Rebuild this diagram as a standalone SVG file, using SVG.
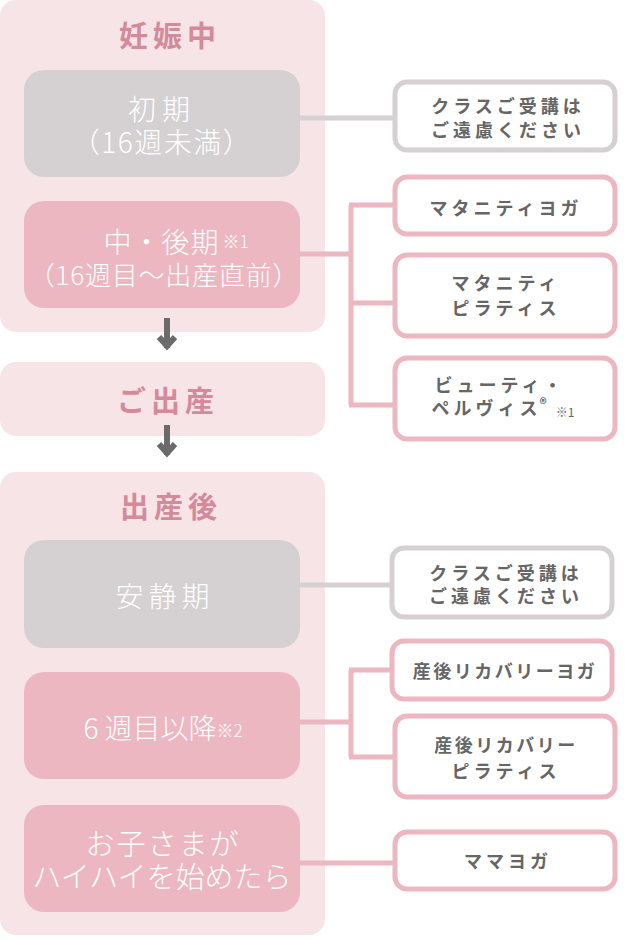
<svg xmlns="http://www.w3.org/2000/svg" width="640" height="940" viewBox="0 0 640 940">
<style>
.panel{fill:#f6e4e7}
.gbox{fill:#d5d0d2}
.pbox{fill:#ecb7c0}
.title{font-family:"Noto Sans CJK JP","Noto Sans",sans-serif;font-weight:700;font-size:29px;fill:#d48a9a;letter-spacing:5px;text-anchor:middle}
.wt{font-family:"Noto Sans CJK JP","Noto Sans",sans-serif;font-weight:300;font-size:27px;fill:#ffffff;text-anchor:middle}
.sm{font-size:17px}
.rt{font-family:"Noto Sans CJK JP","Noto Sans",sans-serif;font-weight:700;font-size:18px;fill:#666666;letter-spacing:4px;text-anchor:middle}
.rbg{fill:#ffffff;stroke:#d5d0d2;stroke-width:5}
.rbp{fill:#ffffff;stroke:#ecb7c0;stroke-width:5}
.cg{fill:none;stroke:#d5d0d2;stroke-width:5}
.cp{fill:none;stroke:#ecb7c0;stroke-width:5}
.arr{fill:none;stroke:#6b6b6b;stroke-width:6}
</style>
<g id="panel-pregnancy">
<rect class="panel" x="0" y="0" width="325" height="332" rx="16"/>
<text class="title" x="170" y="47">妊娠中</text>
</g>
<g id="panel-birth">
<rect class="panel" x="0" y="362" width="325" height="74" rx="16"/>
<text class="title" x="168" y="412">ご出産</text>
</g>
<g id="panel-postpartum">
<rect class="panel" x="0" y="472" width="325" height="463" rx="16"/>
<text class="title" x="171" y="518">出産後</text>
</g>
<g id="connectors">
<path class="cg" d="M300 118 H395"/>
<path class="cp" d="M300 254 H351 M351 205 V405 M349 205 H395 M351 303 H395 M349 405 H395"/>
<path class="cg" d="M300 585 H392"/>
<path class="cp" d="M300 722 H351 M351 670 V757 M349 670 H392 M349 757 H395"/>
<path class="cp" d="M300 863 H395"/>
<path class="arr" d="M167 318 V348 M159 337 L167 346 L175 337"/>
<path class="arr" d="M167 425 V455 M159 444 L167 453 L175 444"/>
</g>
<g id="early">
<rect class="gbox" x="24" y="70" width="276" height="107" rx="20"/>
<text class="wt" x="162" y="120" style="font-size:28px;letter-spacing:6px">初期</text>
<text class="wt" x="162" y="153" style="font-size:28px;letter-spacing:1.5px">（16週未満）</text>
</g>
<g id="mid-late">
<rect class="pbox" x="24" y="201" width="276" height="107" rx="20"/>
<text class="wt" x="176" y="253" style="font-size:28px;letter-spacing:1px">中・後期<tspan class="sm" dx="3" dy="-5" style="letter-spacing:0">※1</tspan></text>
<text class="wt" x="164" y="285" style="font-size:26px;letter-spacing:0.8px">（16週目〜出産直前）</text>
</g>
<g id="no-class-1">
<rect class="rbg" x="395" y="82" width="220" height="68" rx="12"/>
<text class="rt" x="508" y="113">クラスご受講は</text>
<text class="rt" x="508" y="137">ご遠慮ください</text>
</g>
<g id="maternity-yoga">
<rect class="rbp" x="395" y="177" width="220" height="57" rx="12"/>
<text class="rt" x="506" y="215">マタニティヨガ</text>
</g>
<g id="maternity-pilates">
<rect class="rbp" x="395" y="255" width="220" height="81" rx="12"/>
<text class="rt" x="506" y="290">マタニティ</text>
<text class="rt" x="506" y="315">ピラティス</text>
</g>
<g id="beauty-pelvis">
<rect class="rbp" x="395" y="358" width="220" height="81" rx="12"/>
<text class="rt" x="500" y="392">ビューティ・</text>
<text class="rt" x="503" y="415">ペルヴィス<tspan style="font-size:14px;letter-spacing:0" dx="-2" dy="-6">®</tspan><tspan style="font-size:12px;font-weight:400;letter-spacing:0" dx="9" dy="8">※1</tspan></text>
</g>
<g id="rest-period">
<rect class="gbox" x="24" y="540" width="276" height="108" rx="20"/>
<text class="wt" x="165" y="607" style="font-size:28px;letter-spacing:5px">安静期</text>
</g>
<g id="week6">
<rect class="pbox" x="24" y="672" width="276" height="107" rx="20"/>
<text class="wt" x="163" y="739" style="font-size:28px">6<tspan dx="6">週目以降</tspan><tspan class="sm" dy="-2">※2</tspan></text>
</g>
<g id="crawling">
<rect class="pbox" x="24" y="805" width="276" height="107" rx="20"/>
<text class="wt" x="163" y="855" style="font-size:29px;letter-spacing:2px">お子さまが</text>
<text class="wt" x="162" y="888" style="font-size:29px">ハイハイを始めたら</text>
</g>
<g id="no-class-2">
<rect class="rbg" x="392" y="548" width="220" height="69" rx="12"/>
<text class="rt" x="506" y="580">クラスご受講は</text>
<text class="rt" x="506" y="603">ご遠慮ください</text>
</g>
<g id="recovery-yoga">
<rect class="rbp" x="392" y="641" width="220" height="58" rx="12"/>
<text class="rt" x="505" y="678" style="letter-spacing:2.5px">産後リカバリーヨガ</text>
</g>
<g id="recovery-pilates">
<rect class="rbp" x="395" y="716" width="220" height="81" rx="12"/>
<text class="rt" x="506" y="752" style="letter-spacing:2.5px">産後リカバリー</text>
<text class="rt" x="506" y="778">ピラティス</text>
</g>
<g id="mama-yoga">
<rect class="rbp" x="395" y="832" width="220" height="57" rx="12"/>
<text class="rt" x="508" y="868">ママヨガ</text>
</g>
</svg>
